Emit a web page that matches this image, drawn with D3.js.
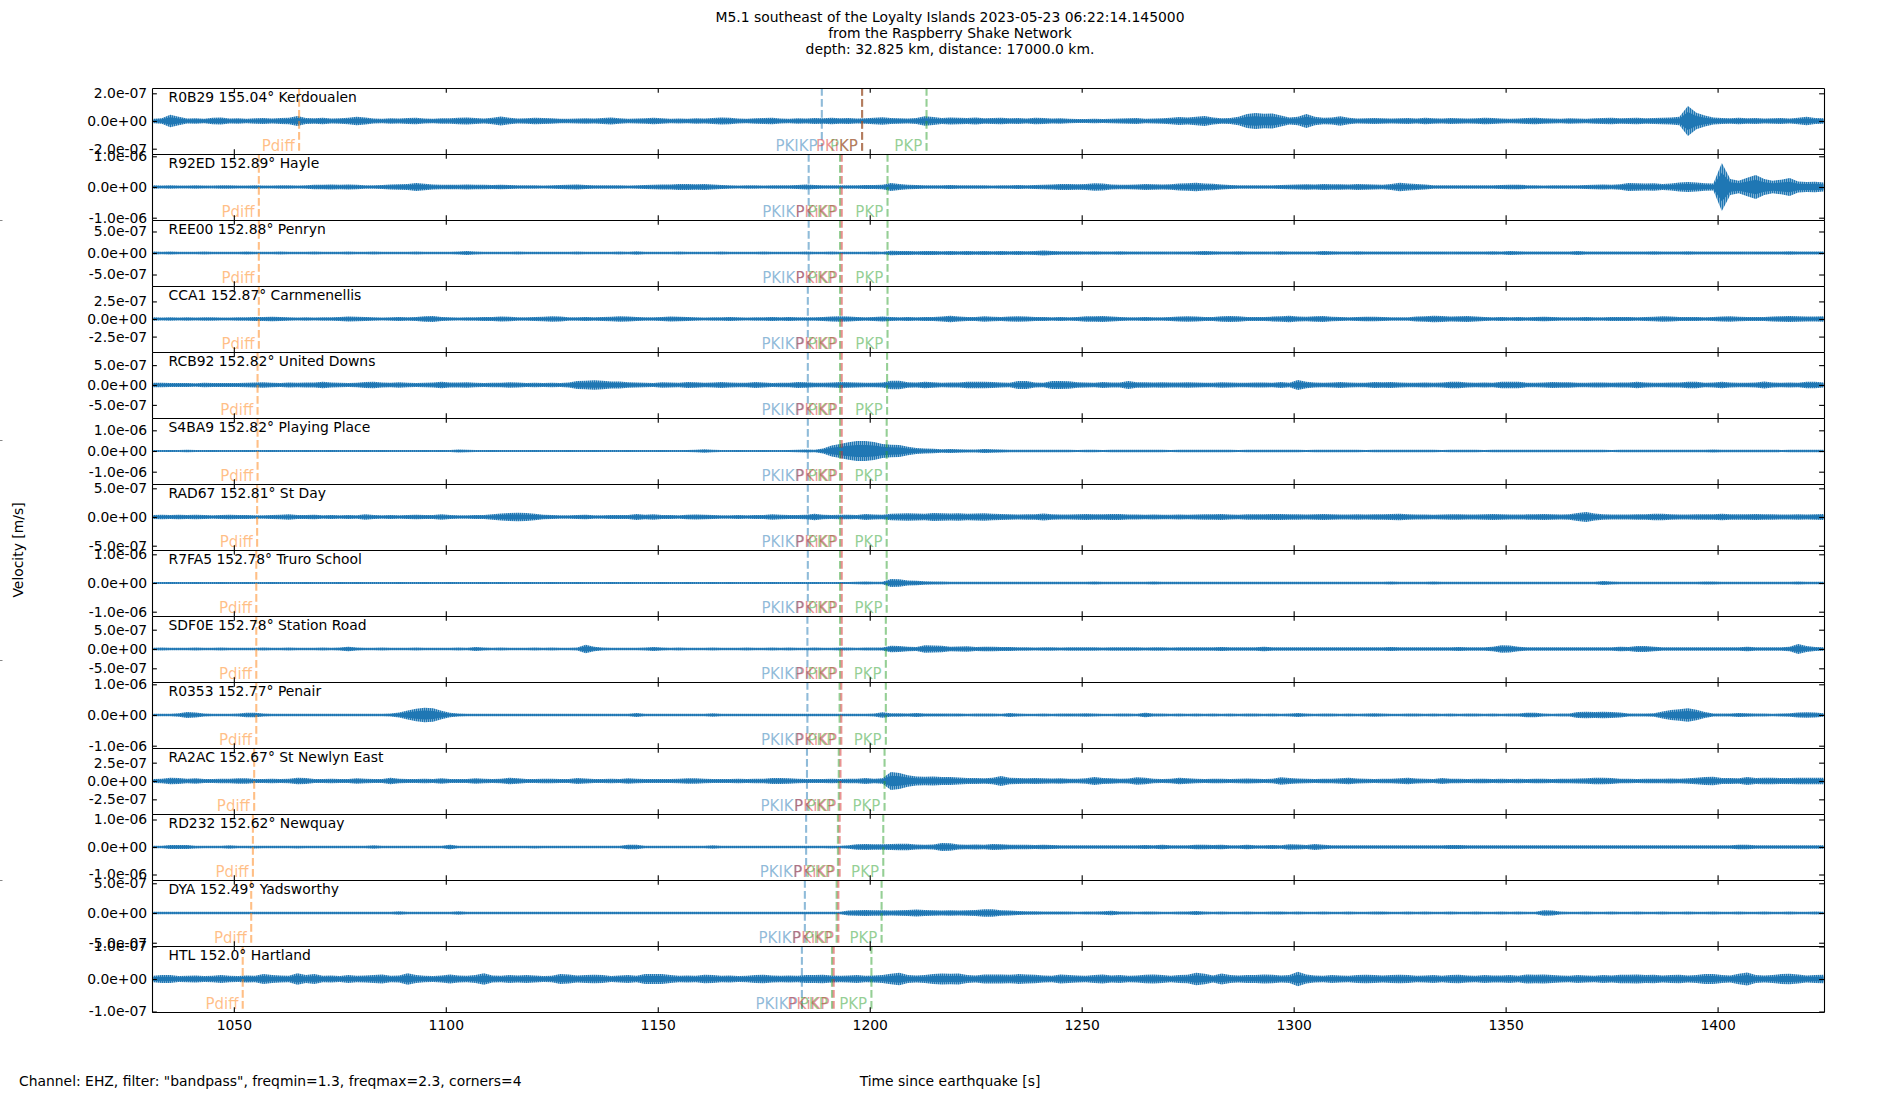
<!DOCTYPE html>
<html>
<head>
<meta charset="utf-8">
<title>M5.1 southeast of the Loyalty Islands - Raspberry Shake</title>
<script src="https://d3js.org/d3.v7.min.js"></script>
<style>
  body { margin: 0; background: #fff; }
  svg text { font-family: "DejaVu Sans", sans-serif; fill: #000; }
  .axis .domain { stroke: #000; stroke-width: 1.1px; }
  .axis line { stroke: #000; stroke-width: 1.1px; }
  .axis text { font-size: 13.9px; font-family: "DejaVu Sans", sans-serif; }
  .figticks .domain { stroke: none; }
  .figticks line { stroke: #888; }
</style>
</head>
<body>
<svg id="chart" width="1900" height="1100"></svg>
<script>
// ---- data ----
const titleLines = [
  "M5.1 southeast of the Loyalty Islands 2023-05-23 06:22:14.145000",
  "from the Raspberry Shake Network",
  "depth: 32.825 km, distance: 17000.0 km."
];
const footLeft = 'Channel: EHZ, filter: "bandpass", freqmin=1.3, freqmax=2.3, corners=4';
const footMid = "Time since earthquake [s]";
const yTitle = "Velocity [m/s]";

const codes = ["R0B29", "R92ED", "REE00", "CCA1", "RCB92", "S4BA9", "RAD67",
  "R7FA5", "SDF0E", "R0353", "RA2AC", "RD232", "DYA", "HTL"];
const dists = [155.04, 152.89, 152.88, 152.87, 152.82, 152.82, 152.81,
  152.78, 152.78, 152.77, 152.67, 152.62, 152.49, 152.0];
const places = ["Kerdoualen", "Hayle", "Penryn", "Carnmenellis", "United Downs", "Playing Place", "St Day",
  "Truro School", "Station Road", "Penair", "St Newlyn East", "Newquay", "Yadsworthy", "Hartland"];

// y tick (+/-) and axis limit per trace, m/s
const yTick = [2e-7, 1e-6, 5e-7, 2.5e-7, 5e-7, 1e-6, 5e-7, 1e-6, 5e-7, 1e-6, 2.5e-7, 1e-6, 5e-7, 1e-7];
const yMax = [2.383e-7, 1.075e-6, 7.67e-7, 4.69e-7, 8.3e-7, 1.595e-6, 5.75e-7,
  1.15e-6, 8.55e-7, 1.075e-6, 4.5e-7, 1.2e-6, 5.55e-7, 1.015e-7];

const xTicks = [1050, 1100, 1150, 1200, 1250, 1300, 1350, 1400];
const xRange = [1030.7, 1425.1];

// phase arrival times (s) per trace
const tPdiff = [1065.4, 1055.9, 1055.9, 1055.9, 1055.6, 1055.6, 1055.5, 1055.3, 1055.3, 1055.3, 1054.8, 1054.5, 1054.1, 1052.1];
const tPKIKP = [1188.7, 1185.6, 1185.6, 1185.4, 1185.4, 1185.4, 1185.4, 1185.4, 1185.3, 1185.3, 1185.2, 1185.0, 1184.7, 1184.0];
const tPKPbc = [1198.2, 1193.0, 1193.0, 1193.0, 1193.0, 1193.0, 1193.0, 1193.0, 1193.0, 1192.9, 1192.7, 1192.5, 1192.2, 1191.1];
const tPKiKP = [1198.2, 1193.4, 1193.4, 1193.4, 1193.4, 1193.4, 1193.4, 1193.4, 1193.4, 1193.3, 1193.1, 1192.9, 1192.6, 1191.5];
const tPKPab = [1213.4, 1204.2, 1204.2, 1204.2, 1204.1, 1204.0, 1204.0, 1204.0, 1203.8, 1203.8, 1203.5, 1203.2, 1202.8, 1200.4];

// trace envelopes: peak amplitude in nm/s, one value every 2 s from 1031 s
const tStart = 1031, tStep = 2;
const envR0B29 = [
  16,20,46,30,18,20,17,24,26,18, 20,16,19,22,18,21,24,36,22,20,
  24,18,20,24,30,26,18,16,20,18, 22,24,18,17,20,19,24,26,22,18,
  24,33,24,18,20,24,22,20,17,16, 18,20,18,22,26,20,16,18,20,24,
  20,16,18,17,20,18,22,26,24,18, 17,20,22,24,18,16,20,18,22,20,
  24,20,22,18,20,24,27,22,20,18, 22,34,28,22,26,24,22,26,20,22,
  24,20,22,18,24,22,18,20,16,14, 14,16,14,16,18,20,22,16,18,20,
  24,28,26,30,36,26,20,22,30,50, 58,52,55,40,26,30,50,30,24,26,
  34,24,18,20,22,20,18,20,22,18, 24,20,18,22,20,18,20,24,22,18,
  16,18,22,24,20,18,16,20,18,16, 20,22,24,20,22,24,20,22,24,26,
  30,108,60,40,26,22,20,24,20,22, 18,20,22,18,24,30,22,20];
const envR92ED = [
  55,50,58,48,52,60,50,46,54,58, 50,48,56,52,50,58,54,50,60,70,
  75,80,72,78,70,60,56,64,80,90, 100,130,105,80,70,75,72,80,70,74,
  68,76,66,58,55,60,52,56,62,70, 80,66,58,54,60,56,52,58,62,70,
  85,80,95,100,90,95,80,62,56,52, 58,54,50,56,60,58,64,80,62,56,
  54,60,56,58,62,66,74,130,95,70, 62,58,56,60,64,58,54,60,56,52,
  56,60,64,58,62,70,80,95,100,90, 100,120,110,85,70,75,85,95,90,80,
  90,110,125,140,115,105,80,66,60,56, 54,60,58,62,70,80,90,85,95,88,
  92,85,95,90,80,70,100,140,110,100, 80,60,56,54,58,56,54,58,60,62,
  70,75,60,56,52,56,54,58,56,62, 70,85,70,90,130,120,110,125,100,110,
  150,165,150,120,110,780,260,200,300,390, 260,200,240,290,180,160,170,150];
const envREE00 = [
  32,28,34,30,27,31,33,29,30,28, 31,34,29,27,30,33,28,31,29,32,
  30,27,31,33,29,28,32,30,27,31, 29,33,30,28,31,27,34,45,33,30,
  28,31,29,32,30,27,29,31,28,30, 33,30,28,31,29,32,30,40,31,28,
  30,29,33,28,31,30,27,32,29,31, 28,30,32,29,27,31,30,33,29,30,
  32,28,30,31,29,33,30,50,44,46, 42,48,44,40,46,42,45,40,44,42,
  46,40,44,42,48,56,44,40,42,38, 36,38,34,36,38,34,36,32,36,34,
  33,36,34,38,48,40,36,34,38,36, 34,36,33,38,35,36,34,37,46,40,
  36,34,38,35,36,34,37,35,33,36, 34,36,35,33,37,34,36,35,38,34,
  46,38,36,34,37,35,36,34,45,36, 34,36,35,37,34,36,35,38,34,36,
  35,42,36,34,37,35,36,34,33,36, 35,34,36,38,35,34,36,35];
const envCCA1 = [
  24,22,26,23,25,21,24,26,23,22, 25,24,27,30,33,28,24,22,25,23,
  24,26,30,34,32,28,24,22,25,27, 24,30,40,43,30,25,23,26,24,28,
  30,36,32,26,24,28,32,38,34,26, 24,27,25,28,32,38,36,30,26,24,
  28,34,33,30,25,23,26,24,27,25, 23,26,24,28,25,27,24,26,25,28,
  34,38,36,28,26,30,36,30,26,28, 25,27,30,36,47,34,28,30,38,32,
  30,34,38,36,30,27,25,28,24,30, 38,40,43,36,30,26,24,27,25,26,
  30,36,38,34,28,30,38,43,38,30, 27,28,34,38,47,36,32,40,43,32,
  28,26,30,33,32,28,25,24,26,36, 40,47,44,36,40,43,36,30,26,28,
  25,27,24,28,33,30,26,24,25,28, 26,24,28,30,27,25,28,32,38,34,
  30,28,27,26,30,36,38,32,28,27, 30,34,40,43,38,34,36,40];
const envRCB92 = [
  58,55,48,52,50,46,54,50,48,52, 50,55,60,68,58,52,62,56,60,66,
  82,60,56,52,58,75,82,64,58,68, 56,52,54,60,80,64,60,68,56,52,
  55,58,68,60,52,56,50,54,52,60, 100,108,118,105,90,85,70,60,56,52,
  68,60,56,75,72,58,62,75,64,56, 58,75,60,52,56,58,75,70,58,56,
  62,75,72,60,56,58,64,105,108,70, 60,82,70,56,60,62,82,80,83,76,
  62,56,98,100,64,58,98,100,95,70, 62,58,75,64,60,98,70,68,66,68,
  64,62,68,60,58,56,68,60,56,58, 60,62,58,75,56,125,80,60,58,62,
  75,60,56,58,75,70,75,60,56,58, 60,56,62,82,80,60,58,62,58,82,
  83,80,58,56,60,75,70,72,58,56, 62,60,58,60,64,82,60,56,58,62,
  60,83,80,58,60,82,60,56,58,60, 86,62,58,60,58,82,80,64];
const envS4BA9 = [
  50,46,52,48,55,50,46,52,48,50, 48,52,46,50,54,48,50,46,52,50,
  48,52,50,46,50,54,48,52,50,47, 50,48,54,50,52,48,72,60,50,48,
  52,50,46,50,48,52,50,47,50,52, 48,50,54,50,48,46,52,50,48,50,
  52,50,48,54,60,86,58,50,48,52, 50,48,52,50,48,54,60,72,58,120,
  260,340,420,480,482,440,340,300,290,200, 150,120,110,90,96,80,72,68,96,80,
  72,60,58,55,62,58,55,60,58,54, 56,58,54,60,56,58,55,60,58,56,
  54,58,60,56,58,55,58,56,54,58, 56,60,58,55,58,56,54,58,60,56,
  55,58,56,54,58,60,56,58,55,57, 58,56,54,58,60,56,58,54,56,58,
  56,58,55,60,64,58,56,58,55,56, 58,56,54,58,56,55,58,56,60,58,
  56,58,55,60,72,60,56,58,55,58, 56,58,54,56,58,55,56,58];
const envRAD67 = [
  34,38,36,40,34,38,35,32,36,38, 34,36,32,30,34,38,47,36,34,40,
  32,34,30,36,32,47,36,30,34,32, 36,40,34,36,47,34,30,32,34,36,
  46,60,70,75,68,56,40,34,32,30, 34,40,32,30,34,36,34,52,40,47,
  36,34,32,40,42,40,34,32,30,34, 32,34,36,47,38,34,36,40,57,40,
  34,38,40,36,52,44,40,57,60,66, 62,58,70,64,60,66,58,62,66,58,
  52,48,44,46,50,61,48,44,42,46, 52,50,48,52,54,44,42,40,44,40,
  38,42,40,44,46,48,52,44,40,46, 48,50,52,54,50,46,44,48,52,48,
  44,42,46,44,48,50,52,57,48,44, 42,40,44,46,48,44,42,46,52,50,
  44,42,46,48,52,50,44,48,70,87, 62,46,44,42,44,48,50,57,56,48,
  44,42,46,48,50,57,50,46,48,52, 48,46,44,42,46,44,48,52];
const envR7FA5 = [
  36,34,38,35,33,37,36,34,38,36, 35,37,34,36,38,35,33,36,37,35,
  34,36,38,35,37,34,36,33,35,38, 36,35,37,34,36,38,35,34,36,37,
  35,38,36,34,37,35,36,38,34,36, 37,35,34,36,38,35,37,34,36,35,
  38,36,35,37,34,36,38,35,37,36, 35,37,36,38,35,34,37,36,38,35,
  36,38,37,40,52,42,40,140,130,87, 80,60,52,48,45,42,44,46,42,44,
  40,43,42,44,41,43,45,42,40,43, 44,52,42,40,43,42,44,41,52,43,
  42,44,40,43,45,42,44,41,43,42, 44,41,43,40,42,44,43,41,44,42,
  43,40,42,44,41,43,52,44,42,40, 43,52,44,41,42,43,40,44,42,43,
  41,44,43,42,40,43,44,42,41,43, 44,70,52,43,42,41,44,43,42,44,
  43,41,44,52,56,44,42,43,41,44, 42,43,44,41,52,43,42,44];
const envSDF0E = [
  34,36,32,35,33,37,34,32,36,34, 33,35,34,36,32,34,37,35,33,34,
  36,34,38,60,40,34,33,36,34,35, 34,36,33,35,34,32,36,35,52,40,
  34,36,33,35,34,37,33,36,34,35, 36,111,60,36,34,33,35,34,36,52,
  40,34,36,33,35,34,36,33,35,34, 36,34,35,37,33,36,34,35,36,34,
  35,40,36,34,38,36,42,85,80,60, 52,95,90,85,60,62,70,52,60,56,
  55,50,46,44,42,46,44,42,45,43, 44,46,42,45,44,43,46,42,44,45,
  42,44,46,43,45,44,52,46,43,44, 45,60,44,43,46,44,45,43,44,46,
  43,45,44,46,43,45,52,44,46,43, 44,46,43,45,52,46,44,43,60,95,
  90,60,46,44,45,43,46,44,45,43, 46,44,45,60,52,78,80,60,46,44,
  45,43,46,44,45,46,44,48,60,46, 44,45,43,60,130,80,50,46];
const envR0353 = [
  40,38,42,60,98,85,50,40,42,38, 45,70,75,50,40,38,42,40,39,41,
  38,42,40,39,41,38,43,40,50,80, 150,200,240,220,140,70,50,42,40,41,
  39,41,38,40,42,39,41,40,38,42, 40,38,42,40,39,41,38,65,42,40,
  39,41,38,40,42,39,55,41,40,38, 42,39,41,40,38,42,39,41,40,43,
  41,40,42,39,44,46,88,60,55,50, 65,52,48,50,46,48,44,46,45,47,
  44,65,46,44,43,45,44,46,48,45, 55,46,44,43,45,46,44,75,45,46,
  44,45,43,46,44,45,43,46,44,45, 46,44,45,43,46,65,45,44,46,45,
  43,45,44,46,55,45,44,43,45,46, 44,45,43,46,44,45,46,44,45,43,
  46,45,75,70,45,44,46,45,100,108, 100,108,95,80,50,46,48,55,110,160,
  190,218,170,100,50,46,48,62,60,45, 46,44,48,60,85,88,80,55];
const envRA2AC = [
  28,30,45,42,30,37,28,26,30,29, 37,36,28,26,30,28,30,45,42,28,
  26,30,28,27,37,30,26,28,45,32, 28,26,30,28,37,28,26,28,37,30,
  28,32,45,38,28,26,30,29,28,27, 41,34,28,26,30,28,37,30,28,27,
  26,28,30,37,36,30,28,27,26,29, 28,30,30,41,40,36,30,28,26,28,
  30,28,29,30,41,32,37,122,109,80, 61,58,60,54,56,48,41,40,38,44,
  68,46,40,38,41,36,34,38,32,30, 36,54,40,38,32,34,50,44,30,28,
  32,45,38,30,28,32,30,28,30,34, 32,28,30,50,40,34,30,28,32,30,
  36,45,34,30,28,30,32,36,45,34, 30,28,41,32,30,28,30,32,28,30,
  28,30,28,32,30,28,32,30,34,36, 45,44,40,32,30,28,30,32,30,34,
  32,36,44,56,59,42,41,38,54,42, 44,45,40,42,45,44,43,45];
const envRD232 = [
  48,46,73,70,72,50,46,48,45,62, 48,46,50,47,45,48,46,50,47,45,
  48,46,47,49,45,48,62,46,48,47, 45,48,46,47,49,84,48,46,47,45,
  48,46,47,45,48,50,46,47,48,45, 47,46,48,45,47,49,84,80,48,46,
  47,45,48,46,47,49,62,46,48,45, 47,46,48,45,47,49,48,46,47,48,
  50,48,60,100,109,104,100,109,120,118, 90,84,88,146,140,90,84,88,80,109,
  100,84,80,78,72,84,70,68,66,65, 64,62,66,68,62,64,68,70,66,84,
  62,64,66,84,80,70,84,66,62,84, 64,68,70,66,98,90,70,109,80,66,
  64,62,66,64,68,62,64,66,62,60, 64,62,66,73,70,64,62,60,64,62,
  64,66,62,60,64,62,66,64,62,64, 62,64,66,62,60,64,62,66,64,62,
  64,62,66,64,62,64,62,84,80,64, 62,64,66,62,64,60,62,64];
const envDYA = [
  20,22,19,21,20,23,19,21,20,22, 21,19,22,20,21,19,22,20,21,20,
  22,20,19,21,22,20,21,19,22,28, 21,20,22,19,21,20,28,22,20,21,
  20,22,19,21,20,22,21,19,20,22, 21,19,22,20,21,20,22,19,21,20,
  22,20,21,19,22,20,21,22,20,21, 19,21,20,22,21,20,22,21,20,22,
  21,22,40,46,49,45,48,44,46,50, 60,52,48,44,46,42,48,52,62,65,
  48,40,34,30,28,26,25,26,24,23, 26,24,28,37,26,24,23,26,24,23,
  22,24,26,33,24,22,24,23,22,24, 23,22,24,26,22,24,23,22,24,23,
  22,24,23,22,24,26,23,22,24,22, 24,22,23,24,22,23,24,22,23,24,
  22,24,23,22,45,40,24,22,23,24, 23,22,24,23,22,24,23,22,24,23,
  22,24,23,22,24,23,22,24,23,22, 24,23,22,24,23,22,24,23];
const envHTL = [
  10,12,12,9,10,11,9,10,12,10, 9,11,10,15,12,11,10,18,12,15,
  10,11,9,12,10,11,12,14,10,11, 18,12,10,9,11,14,11,10,12,18,
  11,10,12,11,12,11,9,10,15,14, 11,12,13,12,9,11,12,10,15,15,
  15,12,10,11,10,13,12,10,11,9, 10,12,13,11,10,11,10,12,12,13,
  11,10,11,12,10,11,12,16,19,12, 11,12,15,17,16,17,12,11,14,14,
  14,13,15,14,13,11,10,14,12,11, 10,12,14,11,12,10,11,13,14,12,
  10,12,13,19,16,11,17,12,11,12, 12,14,13,11,12,22,14,11,10,12,
  11,10,12,13,12,11,12,13,12,10, 11,12,10,12,13,11,10,12,11,11,
  12,10,14,13,14,12,11,10,12,11, 10,12,11,13,13,14,12,13,11,12,
  13,11,12,15,15,12,11,16,20,12, 11,12,15,16,14,11,12,13];

const traces = [envR0B29, envR92ED, envREE00, envCCA1, envRCB92, envS4BA9, envRAD67,
  envR7FA5, envSDF0E, envR0353, envRA2AC, envRD232, envDYA, envHTL];

// ---- layout ----
const svg = d3.select("svg#chart");
const width = +svg.attr("width");
const height = +svg.attr("height");
const margin = { top: 88, right: 76, bottom: 88, left: 152 };
const tickLen = 4.86;

const x = d3.scaleLinear().domain(xRange).range([margin.left, width - margin.right]);
const band = d3.scaleBand().domain(codes).range([margin.top, height - margin.bottom]);

const phaseColor = { Pdiff: "#ff7f0e", PKIKP: "#1f77b4", PKiKP: "#d62728", PKP: "#2ca02c" };

// wiggle look: thin strokes out to the peaks, dense core near zero
const defs = svg.append("defs");
const pat = defs.append("pattern").attr("id", "wiggle")
  .attr("patternUnits", "userSpaceOnUse")
  .attr("width", 2).attr("height", 20);
pat.append("rect").attr("width", 2).attr("height", 20).attr("fill", "#a9cbe3");
pat.append("rect").attr("width", 1.3).attr("height", 20).attr("fill", "#1f77b4");

function sci(v) {
  return v.toExponential(1).replace(/e([+-])(\d)$/, "e$10$2");
}
function degLabel(d) {
  return Number.isInteger(d) ? d.toFixed(1) : String(d);
}

codes.forEach((code, i) => {
  const top = band(code);
  const bottom = top + band.bandwidth();
  const y = d3.scaleLinear().domain([-yMax[i], yMax[i]]).range([bottom, top]);
  const g = svg.append("g").attr("class", "panel");

  defs.append("clipPath").attr("id", "clip" + i)
    .append("rect")
    .attr("x", margin.left).attr("y", top)
    .attr("width", width - margin.left - margin.right).attr("height", band.bandwidth());

  const series = traces[i].map((v, k) => ({ t: tStart + k * tStep, v: v * 1e-9 }));
  const outer = d3.area()
    .x(d => x(d.t))
    .y0(d => y(-d.v))
    .y1(d => y(d.v));
  const core = d3.area()
    .x(d => x(d.t))
    .y0(d => y(-0.6 * d.v))
    .y1(d => y(0.6 * d.v));

  const tr = g.append("g").attr("clip-path", `url(#clip${i})`);
  tr.append("path").datum(series).attr("d", outer).attr("fill", "url(#wiggle)");
  tr.append("path").datum(series).attr("d", core).attr("fill", "#1f77b4");

  // phase markers
  const phases = [
    { name: "Pdiff", t: tPdiff[i] },
    { name: "PKIKP", t: tPKIKP[i] },
    { name: "PKP", t: tPKPbc[i] },
    { name: "PKiKP", t: tPKiKP[i] },
    { name: "PKP", t: tPKPab[i] }
  ];
  phases.forEach(p => {
    g.append("line")
      .attr("x1", x(p.t)).attr("x2", x(p.t))
      .attr("y1", top).attr("y2", bottom)
      .attr("stroke", phaseColor[p.name])
      .attr("stroke-opacity", 0.5)
      .attr("stroke-width", 2.08)
      .attr("stroke-dasharray", "7.7,3.3");
    g.append("text")
      .attr("x", x(p.t - 1))
      .attr("y", bottom - 3)
      .attr("text-anchor", "end")
      .attr("font-size", "15px")
      .style("fill", phaseColor[p.name])
      .style("fill-opacity", 0.5)
      .text(p.name);
  });

  // station label
  g.append("text")
    .attr("x", margin.left + 16.5)
    .attr("y", top + 13.5)
    .attr("font-size", "13.9px")
    .text(`${code} ${degLabel(dists[i])}° ${places[i]}`);

  // axes (ticks inward on all sides)
  const yVals = [-yTick[i], 0, yTick[i]];
  svg.append("g").attr("class", "axis")
    .attr("transform", `translate(${margin.left},0)`)
    .call(d3.axisLeft(y).tickValues(yVals).tickSize(-tickLen).tickSizeOuter(0)
      .tickPadding(tickLen).tickFormat(sci));
  svg.append("g").attr("class", "axis")
    .attr("transform", `translate(${width - margin.right},0)`)
    .call(d3.axisRight(y).tickValues(yVals).tickSize(-tickLen).tickSizeOuter(0).tickFormat(""));
  svg.append("g").attr("class", "axis")
    .attr("transform", `translate(0,${top})`)
    .call(d3.axisTop(x).tickValues(xTicks).tickSize(-tickLen).tickSizeOuter(0).tickFormat(""));
  const last = i === codes.length - 1;
  svg.append("g").attr("class", "axis")
    .attr("transform", `translate(0,${bottom})`)
    .call(d3.axisBottom(x).tickValues(xTicks).tickSize(-tickLen).tickSizeOuter(0)
      .tickPadding(8.5).tickFormat(last ? d3.format("d") : ""));
});

// stray ticks of the figure-wide label axis at the left edge
const figY = d3.scaleLinear().domain([0, 1]).range([height, 0]);
svg.append("g").attr("class", "figticks")
  .call(d3.axisRight(figY).tickValues([0.2, 0.4, 0.6, 0.8]).tickSize(2.5).tickFormat(""));

// titles
svg.append("text")
  .attr("text-anchor", "middle")
  .attr("font-size", "13.9px")
  .selectAll("tspan").data(titleLines).join("tspan")
  .attr("x", width / 2)
  .attr("y", (d, k) => 21.8 + k * 16.2)
  .text(d => d);

svg.append("text")
  .attr("transform", `translate(23,${height / 2}) rotate(-90)`)
  .attr("text-anchor", "middle")
  .attr("font-size", "13.9px")
  .text(yTitle);

svg.append("text")
  .attr("x", 19).attr("y", 1086)
  .attr("font-size", "13.9px")
  .text(footLeft);

svg.append("text")
  .attr("x", width / 2).attr("y", 1086)
  .attr("text-anchor", "middle")
  .attr("font-size", "13.9px")
  .text(footMid);
</script>
</body>
</html>
